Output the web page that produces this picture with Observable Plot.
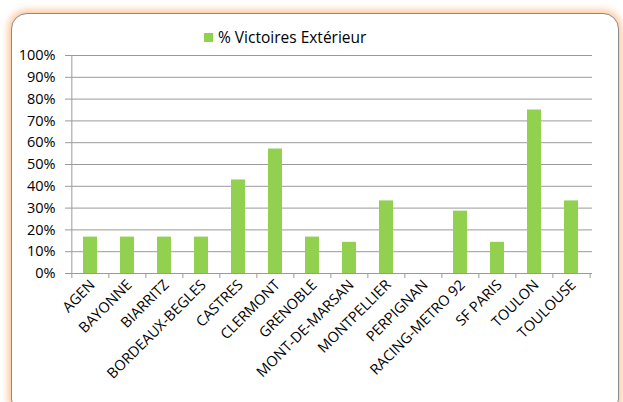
<!DOCTYPE html>
<html>
<head>
<meta charset="utf-8">
<script src="https://cdn.jsdelivr.net/npm/d3@7"></script>
<script src="https://cdn.jsdelivr.net/npm/@observablehq/plot@0.6"></script>
<style>
  html, body { margin: 0; padding: 0; background: #fff; }
  #wrap { position: relative; width: 623px; height: 402px; overflow: hidden; font-family: "Open Sans", sans-serif; }
  #frame { position: absolute; left: 11px; top: 13px; width: 606px; height: 400px; border: 1.3px solid #8a8a8a; border-radius: 16px;
           box-shadow: 0 0 7px 3px rgba(250, 190, 140, 0.85); background: #fff; }
  #legend { position: absolute; left: 204px; top: 26px; font-size: 15.5px; color: #000; display: flex; align-items: center; white-space: nowrap; }
  #legend span.sw { display: inline-block; width: 9px; height: 9px; background: #92d050; margin-right: 5px; }
  #chart { position: absolute; left: 0; top: 0; }
</style>
</head>
<body>
<div id="wrap">
  <div id="frame"></div>
  <div id="legend"><span class="sw"></span><span>% Victoires Extérieur</span></div>
  <div id="chart"></div>
</div>
<script>
const categories = ["AGEN", "BAYONNE", "BIARRITZ", "BORDEAUX-BEGLES", "CASTRES", "CLERMONT", "GRENOBLE",
  "MONT-DE-MARSAN", "MONTPELLIER", "PERPIGNAN", "RACING-METRO 92", "SF PARIS", "TOULON", "TOULOUSE"];
const victoiresExterieur = [16.7, 16.7, 16.7, 16.7, 42.9, 57.1, 16.7, 14.3, 33.3, 0, 28.6, 14.3, 75, 33.3];
const yTicks = [0, 10, 20, 30, 40, 50, 60, 70, 80, 90, 100];
const seriesName = "% Victoires Extérieur";

const data = categories.map((c, i) => ({ team: c, value: victoiresExterieur[i] }));

const W = 623, H = 402;
const mL = 70, mR = 31, mT = 55, mB = 129;
const step = (W - mL - mR) / categories.length;

const chart = Plot.plot({
  width: W, height: H,
  marginLeft: mL, marginRight: mR, marginTop: mT, marginBottom: mB,
  style: { fontFamily: "'Open Sans', sans-serif", fontSize: "15px", color: "#000", background: "transparent", overflow: "visible" },
  x: { domain: categories, paddingInner: 0.62, paddingOuter: 0.31, label: null },
  y: { domain: [0, 100], label: null },
  marks: [
    Plot.gridY(yTicks, { stroke: "#9a9a9a", strokeOpacity: 1, strokeWidth: 1 }),
    Plot.ruleX([0], { x: () => categories[0], dx: -step / 2, y1: 0, y2: 100, stroke: "#9a9a9a" }),
    Plot.barY(data, { x: "team", y: "value", fill: "#92d050" }),
    Plot.axisY(yTicks, { tickFormat: d => d + "%", tickSize: 5, tickPadding: 10, stroke: "#9a9a9a", fontSize: 14.5 }),
    Plot.ruleX(categories, { x: d => d, dx: -step / 2, y1: 0, y2: -2.3, stroke: "#9a9a9a" }),
    Plot.ruleX([categories[categories.length - 1]], { x: d => d, dx: step / 2, y1: 0, y2: -2.3, stroke: "#9a9a9a" }),
    Plot.axisX({ tickSize: 0, tickPadding: 9, tickRotate: -45, fontSize: 14.5, dx: 2 })
  ]
});
document.getElementById("chart").appendChild(chart);
</script>
</body>
</html>
